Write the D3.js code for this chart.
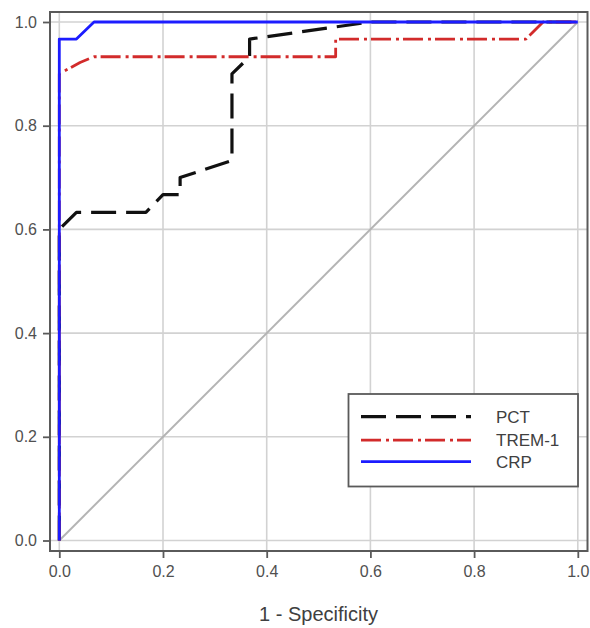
<!DOCTYPE html>
<html>
<head>
<meta charset="utf-8">
<script src="https://cdn.jsdelivr.net/npm/d3@7"></script>
<style>
  body { margin: 0; background: #fff; }
  svg { display: block; font-family: "Liberation Sans", Arial, sans-serif; }
</style>
</head>
<body>
<div class="roc-chart"></div>
<script>
// ROC curves (x = 1 - specificity, y = sensitivity)
var pctX  = [0, 0,   0.033, 0.167, 0.2,   0.233, 0.233, 0.333, 0.333, 0.367, 0.367, 0.6, 1];
var pctY  = [0, 0.6, 0.633, 0.633, 0.667, 0.667, 0.7,   0.733, 0.9,   0.933, 0.967, 1,   1];
var tremX = [0, 0,   0.04,  0.067, 0.533, 0.533, 0.9,   0.933, 1];
var tremY = [0, 0.9, 0.922, 0.933, 0.933, 0.967, 0.967, 1,     1];
var crpX  = [0, 0,     0.033, 0.067, 1];
var crpY  = [0, 0.967, 0.967, 1,     1];
var tickValues = [0, 0.2, 0.4, 0.6, 0.8, 1.0];
var seriesNames = ["PCT", "TREM-1", "CRP"];

var width = 590, height = 628;
var plot = { left: 59.3, right: 577.8, top: 22, bottom: 540.5 };
var frame = { left: 50, right: 587.5, top: 12, bottom: 551 };

var svg = d3.select('.roc-chart').append('svg')
    .attr('width', width)
    .attr('height', height);

var x = d3.scaleLinear().domain([0, 1]).range([plot.left, plot.right]);
var y = d3.scaleLinear().domain([0, 1]).range([plot.bottom, plot.top]);

// grid
var grid = svg.append('g').attr('class', 'grid');
grid.selectAll('line.vx')
    .data(tickValues)
    .enter().append('line')
    .attr('x1', d => x(d)).attr('x2', d => x(d))
    .attr('y1', frame.top).attr('y2', frame.bottom)
    .attr('stroke', '#d2d2d2').attr('stroke-width', 1.6);
grid.selectAll('line.hy')
    .data(tickValues)
    .enter().append('line')
    .attr('y1', d => y(d)).attr('y2', d => y(d))
    .attr('x1', frame.left).attr('x2', frame.right)
    .attr('stroke', '#d2d2d2').attr('stroke-width', 1.6);

// reference diagonal
svg.append('line')
    .attr('x1', x(0)).attr('y1', y(0))
    .attr('x2', x(1)).attr('y2', y(1))
    .attr('stroke', '#b4b4b4').attr('stroke-width', 2);

// frame
svg.append('rect')
    .attr('x', frame.left).attr('y', frame.top)
    .attr('width', frame.right - frame.left)
    .attr('height', frame.bottom - frame.top)
    .attr('fill', 'none')
    .attr('stroke', '#5a5a5a').attr('stroke-width', 2);

// axes (ticks outside the frame)
var xAxis = d3.axisBottom(x).tickValues(tickValues).tickFormat(d3.format('.1f')).tickSize(7).tickPadding(8);
var yAxis = d3.axisLeft(y).tickValues(tickValues).tickFormat(d3.format('.1f')).tickSize(7).tickPadding(6);

var gx = svg.append('g')
    .attr('transform', 'translate(0,' + frame.bottom + ')')
    .call(xAxis);
var gy = svg.append('g')
    .attr('transform', 'translate(' + frame.left + ',0)')
    .call(yAxis);

[gx, gy].forEach(function(g) {
    g.select('.domain').remove();
    g.selectAll('.tick line').attr('stroke', '#5a5a5a').attr('stroke-width', 1.8);
    g.selectAll('.tick text')
        .attr('fill', '#505050')
        .style('font-size', '16px')
        .style('font-family', '"Liberation Sans", Arial, sans-serif');
});

svg.append('text')
    .attr('x', (plot.left + plot.right) / 2)
    .attr('y', 621)
    .attr('text-anchor', 'middle')
    .attr('fill', '#404040')
    .style('font-size', '20px')
    .text('1 - Specificity');

// curves
var line = d3.line().x(d => x(d[0])).y(d => y(d[1]));
var series = [
    { name: seriesNames[0], pts: d3.zip(pctX, pctY),  color: '#111', width: 3.2, dash: '25,10' },
    { name: seriesNames[1], pts: d3.zip(tremX, tremY), color: '#d22b2b', width: 2.8, dash: '20,5,3,4' },
    { name: seriesNames[2], pts: d3.zip(crpX, crpY),   color: '#1c1cff', width: 2.8, dash: null }
];

svg.append('g').selectAll('path')
    .data(series)
    .enter().append('path')
    .attr('d', d => line(d.pts))
    .attr('fill', 'none')
    .attr('stroke', d => d.color)
    .attr('stroke-width', d => d.width)
    .attr('stroke-dasharray', d => d.dash)
    .attr('stroke-linejoin', 'round');

// legend
var legend = svg.append('g').attr('class', 'legend');
legend.append('rect')
    .attr('x', 348.5).attr('y', 394)
    .attr('width', 229.5).attr('height', 92.5)
    .attr('fill', '#fff')
    .attr('stroke', '#5a5a5a').attr('stroke-width', 1.8);

var rows = legend.selectAll('g.row')
    .data(series)
    .enter().append('g')
    .attr('transform', (d, i) => 'translate(0,' + [416.7, 440.2, 461.7][i] + ')');
rows.append('line')
    .attr('x1', 361).attr('x2', 471)
    .attr('stroke', d => d.color)
    .attr('stroke-width', d => d.width)
    .attr('stroke-dasharray', d => d.dash);
rows.append('text')
    .attr('x', 496).attr('dy', '0.36em')
    .attr('fill', '#404040')
    .style('font-size', '17px')
    .text(d => d.name);
</script>
</body>
</html>
